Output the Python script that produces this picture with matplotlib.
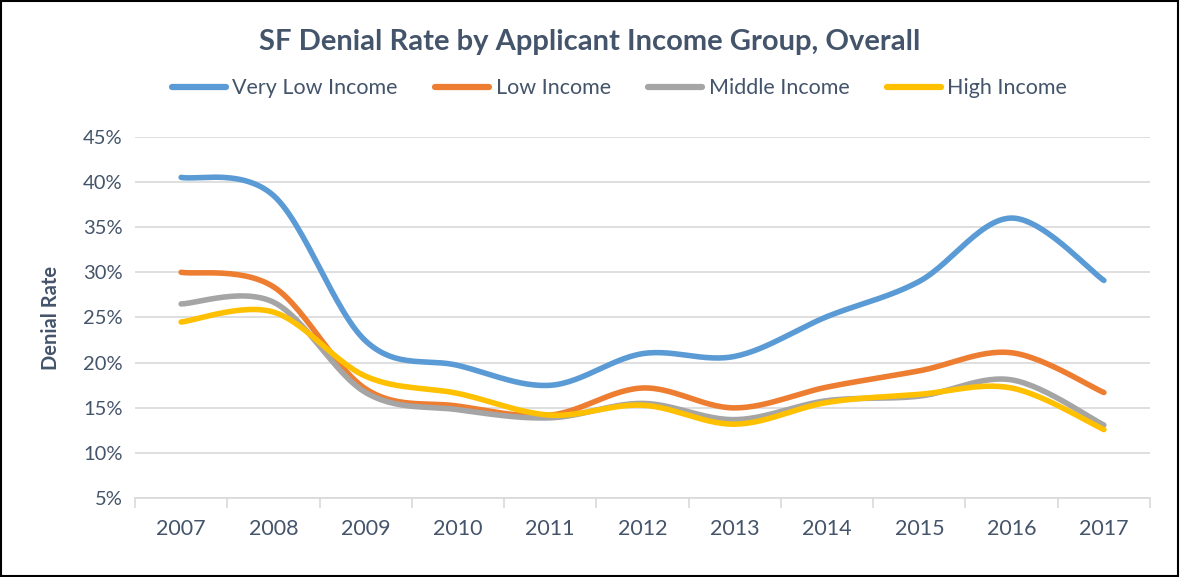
import matplotlib

matplotlib.use("Agg")
import matplotlib.pyplot as plt
import numpy as np

years = ["2007", "2008", "2009", "2010", "2011", "2012", "2013", "2014", "2015", "2016", "2017"]

very_low = [40.5, 38.5, 22.4, 19.7, 17.5, 21.0, 20.7, 25.1, 29.0, 36.0, 29.1]
low = [30.0, 28.4, 17.1, 15.2, 14.2, 17.2, 15.0, 17.3, 19.1, 21.1, 16.7]
middle = [26.5, 26.7, 16.7, 14.8, 13.9, 15.5, 13.7, 15.8, 16.3, 18.1, 13.1]
high = [24.5, 25.6, 18.5, 16.6, 14.2, 15.3, 13.2, 15.6, 16.5, 17.2, 12.6]

series = [
    ("Very Low Income", very_low, "#5b9bd5"),
    ("Low Income", low, "#ed7d31"),
    ("Middle Income", middle, "#a5a5a5"),
    ("High Income", high, "#ffc000"),
]

TEXT = "#44546a"
FONT = ["Lato", "DejaVu Sans"]


def smooth(xs, ys, steps=30):
    """Excel-style smoothed line: cubic Bezier segments, Catmull-Rom controls."""
    pts = np.column_stack([xs, ys]).astype(float)
    ext = np.vstack([pts[0], pts, pts[-1]])
    t = np.linspace(0, 1, steps)[:, None]
    out = []
    for i in range(len(pts) - 1):
        p0, p1, p2, p3 = ext[i], ext[i + 1], ext[i + 2], ext[i + 3]
        c1 = p1 + (p2 - p0) / 6
        c2 = p2 - (p3 - p1) / 6
        seg = ((1 - t) ** 3) * p1 + 3 * ((1 - t) ** 2) * t * c1 + 3 * (1 - t) * t**2 * c2 + t**3 * p2
        out.append(seg if i == 0 else seg[1:])
    out = np.vstack(out)
    return out[:, 0], out[:, 1]


fig = plt.figure(figsize=(11.8, 5.77), dpi=100)
ax = fig.add_axes([0.1144, 0.1364, 0.8602, 0.6267])

x = np.arange(len(years))
for name, vals, color in series:
    sx, sy = smooth(x, vals)
    ax.plot(sx, sy, color=color, lw=4.0, solid_capstyle="round", label=name)

ax.set_xlim(-0.5, len(years) - 0.5)
ax.set_ylim(5, 45)
ax.set_yticks(np.arange(5, 46, 5))
ax.set_yticklabels([f"{v}%" for v in range(5, 46, 5)])
ax.set_xticks(x)
ax.set_xticklabels(years)
ax.set_xticks(np.arange(-0.5, len(years), 1), minor=True)

ax.grid(axis="y", color="#d9d9d9", lw=1.2)
ax.set_axisbelow(True)
for side in ("left", "right", "top"):
    ax.spines[side].set_visible(False)
ax.spines["bottom"].set_color("#d9d9d9")
ax.spines["bottom"].set_linewidth(1.2)
ax.tick_params(axis="y", length=0, pad=9, labelsize=14.5, labelcolor=TEXT)
ax.tick_params(axis="x", which="major", length=0, pad=15, labelsize=15.5, labelcolor=TEXT)
ax.tick_params(axis="x", which="minor", length=7, width=1.2, color="#d9d9d9")
for lbl in ax.get_xticklabels() + ax.get_yticklabels():
    lbl.set_family(FONT)

ax.set_ylabel("Denial Rate", fontsize=14.5, fontweight="bold", color=TEXT, family=FONT, labelpad=16)

fig.text(0.5, 0.927, "SF Denial Rate by Applicant Income Group, Overall",
         ha="center", va="center", fontsize=21, fontweight="bold", color=TEXT, family=FONT)

leg = fig.legend(loc="center", bbox_to_anchor=(0.525, 0.847), ncol=4, frameon=False,
                 handlelength=2.5, handletextpad=0.3, columnspacing=1.75,
                 prop={"family": FONT, "size": 15.5})
for txt in leg.get_texts():
    txt.set_color(TEXT)
for line in leg.get_lines():
    line.set_linewidth(4.5)

# thin dark frame around the whole chart
fig.patches.append(plt.Rectangle((0.001, 0.002), 0.997, 0.996, transform=fig.transFigure,
                                 fill=False, edgecolor="black", lw=1.5))

fig.savefig("out.png", dpi=100)
